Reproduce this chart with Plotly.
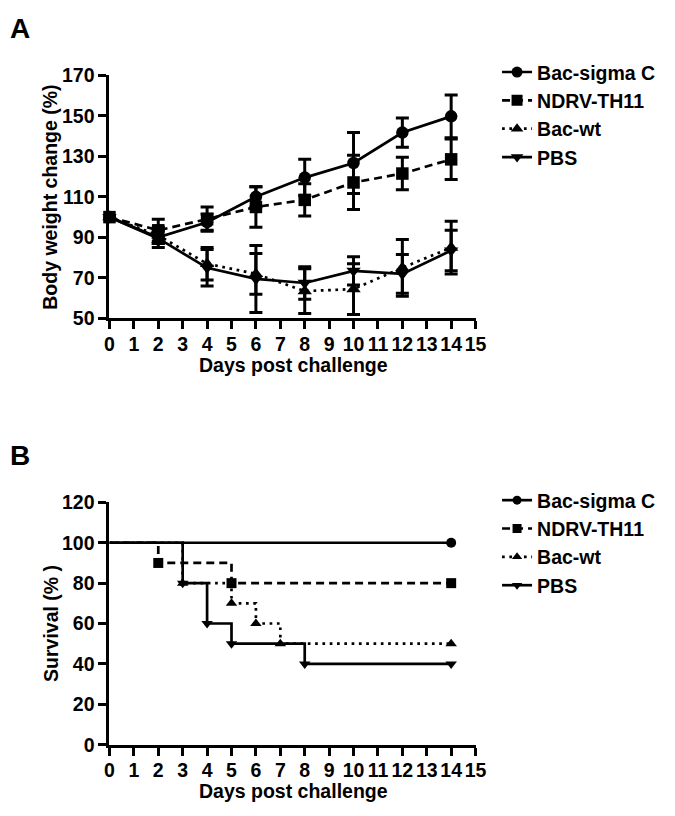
import plotly.graph_objects as go

# ---------------- data ----------------
days = [0, 2, 4, 6, 8, 10, 12, 14]
bac_sigma = [100, 90, 97.5, 110, 119.5, 126.7, 141.7, 149.7]
bac_sigma_err = [0, 3, 4, 5, 9, 15, 7.2, 10.5]
ndrv = [100, 93.5, 99, 105, 108.5, 117.1, 121.5, 128.5]
ndrv_err = [0, 5.5, 6, 10, 8, 13.4, 8, 10]
bac_wt = [100, 91, 77, 72, 63.5, 64.5, 75, 85]
bac_wt_err = [0, 4, 8, 10, 11, 12.5, 14, 13]
pbs = [100, 89.5, 75, 69.5, 67.5, 73.5, 72, 83.5]
pbs_err = [0, 4.5, 9, 16.5, 8, 7, 9.5, 10]

names = ["Bac-sigma C", "NDRV-TH11", "Bac-wt", "PBS"]

surv_t_sigma = [0, 14]
surv_sigma = [100, 100]
surv_t_ndrv = [0, 2, 5, 14]
surv_ndrv = [100, 90, 80, 80]
surv_t_wt = [0, 3, 5, 6, 7, 14]
surv_wt = [100, 80, 70, 60, 50, 50]
surv_t_pbs = [0, 3, 4, 5, 8, 14]
surv_pbs = [100, 80, 60, 50, 40, 40]

weight_ticks = [50, 70, 90, 110, 130, 150, 170]
surv_ticks = [0, 20, 40, 60, 80, 100, 120]
day_ticks = list(range(0, 16))

# ---------------- style ----------------
W, H = 675, 816
FONT = "Liberation Sans, Arial, sans-serif"
BLACK = "#000000"
FS = 19.5
symbols = ["circle", "square", "triangle-up", "triangle-down"]
dashes = ["solid", "8px,5px", "2.7px,4.6px", "solid"]


def px_x(p):
    return p / W


def px_y(p):
    return 1 - p / H


def bold(s):
    return dict(family=FONT, size=s, color=BLACK, weight="bold")


fig = go.Figure()

# Panel A: body weight with error bars
series_a = [(bac_sigma, bac_sigma_err), (ndrv, ndrv_err), (bac_wt, bac_wt_err), (pbs, pbs_err)]
for i, (vals, errs) in enumerate(series_a):
    fig.add_trace(go.Scatter(
        x=days, y=vals, mode="lines+markers",
        line=dict(color=BLACK, width=2.7, dash=dashes[i]),
        marker=dict(symbol=symbols[i], size=12.5, color=BLACK),
        error_y=dict(type="data", array=errs, visible=True, color=BLACK,
                     thickness=3, width=6.5),
        cliponaxis=False, showlegend=False, xaxis="x", yaxis="y",
    ))
for i in range(4):
    fig.add_trace(go.Scatter(
        x=[None], y=[None], mode="lines+markers", name=names[i],
        line=dict(color=BLACK, width=2.7, dash=dashes[i]),
        marker=dict(symbol=symbols[i], size=11, color=BLACK),
        legend="legend", xaxis="x", yaxis="y",
    ))

# Panel B: survival step curves
series_b = [(surv_t_sigma, surv_sigma), (surv_t_ndrv, surv_ndrv),
            (surv_t_wt, surv_wt), (surv_t_pbs, surv_pbs)]
for i, (t, s) in enumerate(series_b):
    fig.add_trace(go.Scatter(
        x=t, y=s, mode="lines", line_shape="hv",
        line=dict(color=BLACK, width=2.7, dash=dashes[i]),
        cliponaxis=False, showlegend=False, xaxis="x2", yaxis="y2",
    ))
    fig.add_trace(go.Scatter(
        x=t[1:], y=s[1:], mode="markers",
        marker=dict(symbol=symbols[i], size=10, color=BLACK),
        cliponaxis=False, showlegend=False, xaxis="x2", yaxis="y2",
    ))
for i in range(4):
    fig.add_trace(go.Scatter(
        x=[None], y=[None], mode="lines+markers", name=names[i],
        line=dict(color=BLACK, width=2.7, dash=dashes[i]),
        marker=dict(symbol=symbols[i], size=9, color=BLACK),
        legend="legend2", xaxis="x2", yaxis="y2",
    ))

axis_common = dict(showline=True, linewidth=3, linecolor=BLACK, ticks="outside",
                   ticklen=8, tickwidth=3, tickcolor=BLACK, showgrid=False,
                   zeroline=False, tickfont=bold(FS), tickangle=0, fixedrange=True)
xaxis_extra = dict(ticklabelstandoff=-2)

xdom = [px_x(107), px_x(482)]
fig.update_layout(
    width=W, height=H, margin=dict(l=0, r=0, t=0, b=0),
    paper_bgcolor="white", plot_bgcolor="white",
    font=dict(family=FONT, color=BLACK),
    xaxis=dict(domain=xdom, range=[0, 15], tickvals=day_ticks, anchor="y",
               **axis_common, **xaxis_extra),
    yaxis=dict(domain=[px_y(316), px_y(66)], range=[50, 170], tickvals=weight_ticks,
               anchor="x", **axis_common),
    xaxis2=dict(domain=xdom, range=[0, 15], tickvals=day_ticks, anchor="y2",
                **axis_common, **xaxis_extra),
    yaxis2=dict(domain=[px_y(754), px_y(505)], range=[0, 120], tickvals=surv_ticks,
                anchor="x2", **axis_common),
    legend=dict(x=px_x(504), y=px_y(43), xanchor="left", yanchor="top",
                font=bold(FS), bgcolor="rgba(0,0,0,0)"),
    legend2=dict(x=px_x(504), y=px_y(483), xanchor="left", yanchor="top",
                 font=bold(FS), bgcolor="rgba(0,0,0,0)"),
)

annotations = [
    dict(text="A", x=px_x(3), y=px_y(0), xanchor="left", yanchor="top", font=bold(28)),
    dict(text="B", x=px_x(3), y=px_y(439), xanchor="left", yanchor="top", font=bold(28)),
    dict(text="Body weight change (%)", textangle=-90, x=px_x(46), y=px_y(191),
         xanchor="center", yanchor="middle", font=bold(FS)),
    dict(text="Survival (% )", textangle=-90, x=px_x(47), y=px_y(629),
         xanchor="center", yanchor="middle", font=bold(FS)),
    dict(text="Days post challenge", x=px_x(295), y=px_y(350), xanchor="center",
         yanchor="top", font=bold(FS)),
    dict(text="Days post challenge", x=px_x(295), y=px_y(788), xanchor="center",
         yanchor="top", font=bold(FS)),
]
for a in annotations:
    a.update(xref="paper", yref="paper", showarrow=False)
fig.update_layout(annotations=annotations)

fig.write_html("out.html", config={"displayModeBar": False},
               post_script="document.body.style.margin='0';")
